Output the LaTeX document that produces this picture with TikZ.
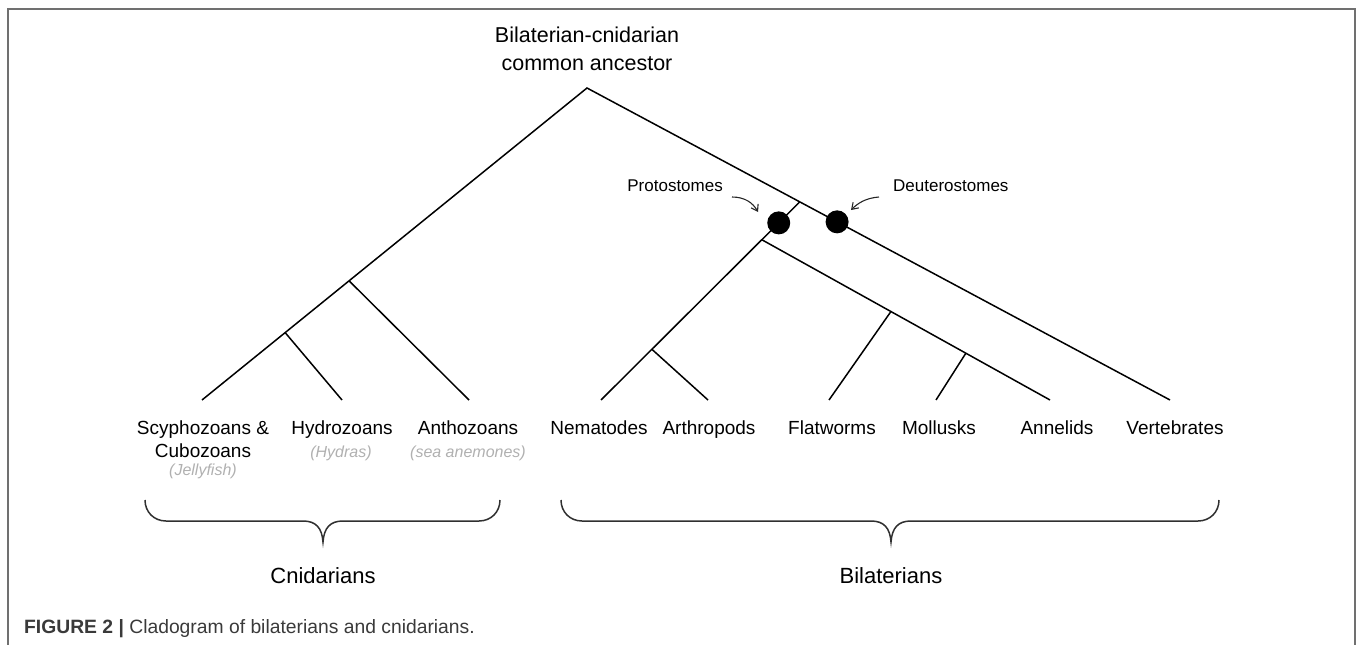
\documentclass[tikz,border=0pt]{standalone}
\usepackage{fontspec}
\setmainfont{Liberation Sans}
\usetikzlibrary{calc,arrows.meta}
\definecolor{framegray}{HTML}{707070}
\definecolor{subgray}{HTML}{B0B0B0}
\definecolor{bracegray}{HTML}{303030}
\definecolor{captxt}{HTML}{3A3A3A}
\tikzset{
  branch/.style={draw=black, line width=1.5pt},
  clade/.style={circle, fill=black, inner sep=0pt, minimum size=23pt},
  leaf/.style={inner sep=0pt, anchor=base, font=\fontsize{19}{23}\selectfont, align=center},
  sub/.style={inner sep=0pt, anchor=base, text=subgray, font=\fontsize{16}{19}\selectfont\itshape},
  grp/.style={inner sep=0pt, anchor=base, font=\fontsize{22}{26}\selectfont},
  cladelbl/.style={inner sep=0pt, font=\fontsize{17}{20}\selectfont},
  pointer/.style={draw=black!85, line width=1.1pt, -{Straight Barb[length=6pt,width=8pt]}},
  bracepath/.style={draw=bracegray, line width=1.5pt},
}
\begin{document}
\begin{tikzpicture}[x=1pt,y=-1pt]
\useasboundingbox (0,0) rectangle (1358,645);
% frame
\draw[framegray, line width=1.6pt] (8,645) -- (8,9) -- (1355,9) -- (1355,645);

% root label
\node[inner sep=0pt, anchor=base, align=center, font=\fontsize{21.5}{28}\selectfont] (rootlbl) at (587,70) {Bilaterian-cnidarian\\common ancestor};

% tree coordinates
\coordinate (root) at (587,88);
\coordinate (lS) at (202,400);
\coordinate (lH) at (342,400);
\coordinate (lA) at (469,400);
\coordinate (lV) at (1170,400);
\coordinate (lN) at (601,400);
\coordinate (lAr) at (708,400);
\coordinate (lF) at (829,400);
\coordinate (lM) at (936,400);
\coordinate (lAn) at (1050,400);

\coordinate (cA) at ($(root)!0.618!(lS)$);
\coordinate (cH) at ($(root)!0.784!(lS)$);
\coordinate (pS) at ($(root)!0.365!(lV)$);
\coordinate (dP) at ($(root)!0.429!(lV)$);
\coordinate (pP) at ($(pS)!0.106!(lN)$);
\coordinate (pA) at ($(pS)!0.191!(lN)$);
\coordinate (nA) at ($(pS)!0.744!(lN)$);
\coordinate (nF) at ($(pA)!0.448!(lAn)$);
\coordinate (nM) at ($(pA)!0.708!(lAn)$);

% branches
\draw[branch] (lS) -- (root) -- (lV);
\draw[branch] (cA) -- (lA);
\draw[branch] (cH) -- (lH);
\draw[branch] (pS) -- (lN);
\draw[branch] (nA) -- (lAr);
\draw[branch] (pA) -- (lAn);
\draw[branch] (nF) -- (lF);
\draw[branch] (nM) -- (lM);

% clade dots
\node[clade] (proto) at (pP) {};
\node[clade] (deut) at (dP) {};

% clade labels with pointers
\node[cladelbl, anchor=base east] (protolbl) at (723,191) {Protostomes};
\node[cladelbl, anchor=base west] (deutlbl) at (893,191) {Deuterostomes};
\coordinate (pa0) at (732,197);
\coordinate (pa1) at (758,212);
\coordinate (da0) at (879,197);
\coordinate (da1) at (851,210);
\draw[pointer] (pa0) .. controls (745,197) and (753,203) .. (pa1);
\draw[pointer] (da0) .. controls (866,198) and (858,203) .. (da1);

% leaf labels
\node[leaf] (scy) at (203,457) {Scyphozoans \&\\Cubozoans};
\node[sub] (jel) at (203,475) {(Jellyfish)};
\node[leaf] (hyd) at (342,434) {Hydrozoans};
\node[sub] (hyds) at (341,457) {(Hydras)};
\node[leaf] (ant) at (468,434) {Anthozoans};
\node[sub] (sea) at (468,457) {(sea anemones)};
\node[leaf] (nem) at (599,434) {Nematodes};
\node[leaf] (art) at (709,434) {Arthropods};
\node[leaf] (fla) at (832,434) {Flatworms};
\node[leaf] (mol) at (939,434) {Mollusks};
\node[leaf] (ann) at (1057,434) {Annelids};
\node[leaf] (ver) at (1175,434) {Vertebrates};

% braces
\draw[bracepath] (145,500) .. controls (145,512) and (154,521) .. (166,521) -- (303,521)
  .. controls (316,521) and (322,528) .. (323,542)
  .. controls (324,528) and (330,521) .. (343,521) -- (479,521)
  .. controls (491,521) and (500,512) .. (500,500);
\draw[bracepath] (561,500) .. controls (561,512) and (570,521) .. (582,521) -- (871,521)
  .. controls (884,521) and (890,528) .. (891,542)
  .. controls (892,528) and (898,521) .. (911,521) -- (1198,521)
  .. controls (1210,521) and (1219,512) .. (1219,500);

\node[grp] (cni) at (323,583) {Cnidarians};
\node[grp] (bil) at (891,583) {Bilaterians};

% caption
\node[inner sep=0pt, anchor=base west, text=captxt, font=\fontsize{19.3}{23}\selectfont] (cap) at (24,633) {{\bfseries FIGURE 2 |} Cladogram of bilaterians and cnidarians.};
\end{tikzpicture}
\end{document}
